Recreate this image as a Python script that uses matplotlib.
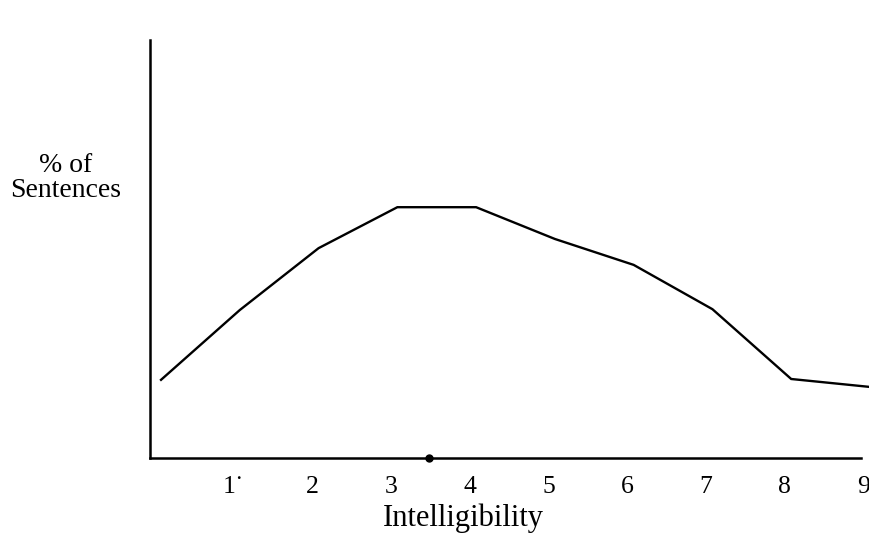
import matplotlib
matplotlib.use("Agg")
import matplotlib.pyplot as plt

x = [0, 1, 2, 3, 4, 5, 6, 7, 8, 9]
pct = [18.7, 35.4, 50.2, 60.0, 60.0, 52.4, 46.2, 35.6, 18.9, 17.0]
tick_labels = ["", "1\u02d9", "2", "3", "4", "5", "6", "7", "8", "9"]
dot_x = 3.4

plt.rcParams['font.family'] = ['Liberation Serif', 'DejaVu Serif']

fig = plt.figure(figsize=(8.7, 5.33), dpi=100)
W, H = 870, 533
ax = fig.add_axes([150 / W, 1 - 458 / H, (861 - 150) / W, (458 - 40) / H])
ax.plot(x, pct, color='black', lw=1.7, clip_on=False, solid_joinstyle='miter')
ax.plot([dot_x], [0], 'o', color='black', ms=5, clip_on=False)
ax.set_xlim(-0.14, 8.886)
ax.set_ylim(0, 100)
for s in ['top', 'right']:
    ax.spines[s].set_visible(False)
for s in ['left', 'bottom']:
    ax.spines[s].set_linewidth(1.8)
ax.set_xticks([])
ax.set_yticks([])
for xi, lab in zip(x, tick_labels):
    ax.text(xi - 0.08, -6.9, lab, ha='center', va='center', fontsize=18.5, clip_on=False)
fig.text(463 / W, 1 - 518 / H, "Intelligibility", ha='center', va='center', fontsize=22)
fig.text(66 / W, 1 - 178 / H, "% of\nSentences", ha='center', va='center', fontsize=20, linespacing=0.95)
fig.savefig("out.png", dpi=100)
